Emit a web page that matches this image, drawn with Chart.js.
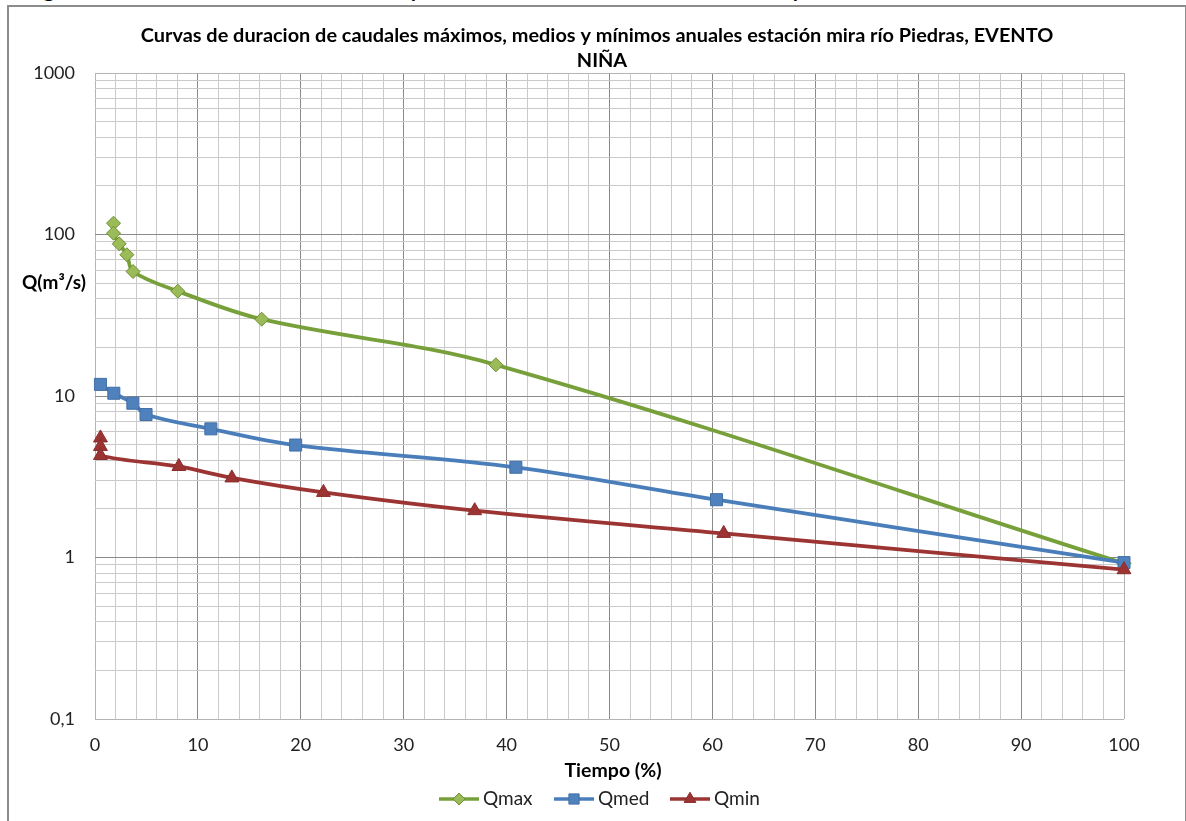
<!DOCTYPE html>
<html>
<head>
<meta charset="utf-8">
<script src="https://cdn.jsdelivr.net/npm/chart.js@4.4.0/dist/chart.umd.min.js"></script>
<style>
  html, body { margin: 0; padding: 0; background: #fff; }
  #wrap { position: relative; width: 1186px; height: 821px; overflow: hidden; }
  #cut { position: absolute; left: 26px; top: -24px; font: bold 21px Lato, sans-serif; color: #000; white-space: nowrap; }
  #frame { position: absolute; left: 7px; top: 5px; width: 1176px; height: 840px; border: 2px solid #8c8c8c; }
  canvas { position: absolute; left: 0; top: 0; }
</style>
</head>
<body>
<div id="wrap">
  <div id="cut">Figura 6. Curvas de duración de caudales y duración de caudales máximos, medios y mínimos anuales</div>
  <div id="frame"></div>
  <canvas id="chart" width="1186" height="821"></canvas>
</div>
<script>
// valores
const tiempoMax = [1.8, 1.8, 2.35, 3.1, 3.7, 8.05, 16.2, 38.96, 100];
const qMax      = [117.5, 101.9, 87.6, 74.9, 59.0, 44.6, 29.9, 15.6, 0.92];
const tiempoMed = [0.53, 1.83, 3.68, 4.96, 11.26, 19.5, 40.9, 60.4, 100];
const qMed      = [11.8, 10.4, 9.02, 7.68, 6.26, 4.97, 3.62, 2.28, 0.93];
const tiempoMin = [0.53, 0.53, 0.53, 8.15, 13.3, 22.2, 36.9, 61.1, 100];
const qMin      = [5.50, 4.87, 4.28, 3.66, 3.11, 2.53, 1.95, 1.41, 0.84];

const yDecades = [0.1, 1, 10, 100, 1000];
const yTickLabels = ['0,1', '1', '10', '100', '1000'];
const xTickLabels = [0, 10, 20, 30, 40, 50, 60, 70, 80, 90, 100];

const titleLines = ['Curvas de duracion de caudales máximos, medios y mínimos anuales estación mira río Piedras, EVENTO', 'NIÑA'];
const xTitle = 'Tiempo (%)';
const yTitle = 'Q(m³/s)';

function toPoints(xs, ys) {
    return xs.map((x, i) => ({ x: x, y: ys[i] }));
}

// grid lines: every 2 % on x, 1..9 per decade on y
const xGrid = [];
for (let v = 0; v <= 100; v += 2) xGrid.push(v);
const yGrid = [];
yDecades.forEach((d, i) => {
    if (i === yDecades.length - 1) { yGrid.push(d); return; }
    for (let k = 1; k <= 9; k++) yGrid.push(+(d * k).toPrecision(3));
});

const gridColor = (isEdge, isMajor) => isEdge ? '#b4b4b4' : (isMajor ? '#8a8a8a' : '#cacaca');

// title, axis titles and legend drawn by hand
const decor = {
    id: 'decor',
    afterDraw(chart) {
        const ctx = chart.ctx;
        ctx.save();
        ctx.fillStyle = '#000';
        ctx.textAlign = 'center';
        ctx.textBaseline = 'middle';
        ctx.font = 'bold 16px Lato';
        const w = ctx.measureText(titleLines[0]).width;
        const size = 16 * 913 / w;
        ctx.font = 'bold ' + size.toFixed(2) + 'px Lato';
        ctx.fillText(titleLines[0], 597, 36);
        ctx.fillText(titleLines[1], 602, 61);

        ctx.font = 'bold 19.5px Lato';
        ctx.fillText(xTitle, 613, 771);
        ctx.textAlign = 'left';
        ctx.font = 'bold 19px Lato';
        ctx.fillText(yTitle, 22, 283);

        // legend
        const starts = [439, 554, 670];
        ctx.font = '19px Lato';
        chart.data.datasets.forEach((ds, i) => {
            const x0 = starts[i], y0 = 799;
            ctx.strokeStyle = ds.borderColor;
            ctx.lineWidth = 3.5;
            ctx.beginPath();
            ctx.moveTo(x0, y0);
            ctx.lineTo(x0 + 40, y0);
            ctx.stroke();
            ctx.fillStyle = ds.pointBackgroundColor;
            ctx.strokeStyle = ds.pointBorderColor;
            ctx.lineWidth = 1;
            Chart.helpers.drawPoint(ctx, {
                pointStyle: ds.pointStyle,
                radius: ds.pointRadius * 0.85,
                rotation: 0,
                borderWidth: 1
            }, x0 + 20, y0);
            ctx.fillStyle = '#222';
            ctx.textAlign = 'left';
            ctx.fillText(ds.label, x0 + 44, y0);
        });
        ctx.restore();
    }
};

new Chart(document.getElementById('chart'), {
    type: 'line',
    data: {
        datasets: [
            {
                label: 'Qmax',
                data: toPoints(tiempoMax, qMax),
                borderColor: '#77a03a',
                borderWidth: 3.8,
                pointStyle: 'rectRot',
                pointRadius: 7,
                pointBackgroundColor: '#9bbb59',
                pointBorderColor: '#6e8f34',
                pointBorderWidth: 1,
                tension: 0.35,
                order: 3
            },
            {
                label: 'Qmed',
                data: toPoints(tiempoMed, qMed),
                borderColor: '#4a7ebb',
                borderWidth: 3.8,
                pointStyle: 'rect',
                pointRadius: 8.5,
                pointBackgroundColor: '#4f81bd',
                pointBorderColor: '#426fa6',
                pointBorderWidth: 1,
                tension: 0.35,
                order: 2
            },
            {
                label: 'Qmin',
                data: toPoints(tiempoMin, qMin),
                borderColor: '#9b3432',
                borderWidth: 3.8,
                pointStyle: 'triangle',
                pointRadius: 8,
                pointBackgroundColor: '#9b3432',
                pointBorderColor: '#8a2d2b',
                pointBorderWidth: 1,
                tension: 0.35,
                order: 1
            }
        ]
    },
    options: {
        responsive: false,
        animation: false,
        clip: false,
        layout: { padding: { top: 73, right: 62, left: 0, bottom: 0 } },
        plugins: {
            legend: { display: false },
            title: { display: false },
            tooltip: { enabled: false }
        },
        scales: {
            x: {
                type: 'linear',
                min: 0,
                max: 100,
                afterBuildTicks: (s) => { s.ticks = xGrid.map(v => ({ value: v })); },
                afterFit: (s) => { s.height = 102; },
                ticks: {
                    autoSkip: false,
                    maxRotation: 0,
                    padding: 15,
                    color: '#222',
                    font: { family: 'Lato', size: 18 },
                    callback: (v) => xTickLabels.includes(v) ? String(v) : ''
                },
                grid: {
                    drawTicks: false,
                    color: (c) => gridColor(c.tick.value === 0 || c.tick.value === 100, c.tick.value % 10 === 0)
                },
                border: { display: false }
            },
            y: {
                type: 'logarithmic',
                min: 0.1,
                max: 1000,
                afterBuildTicks: (s) => { s.ticks = yGrid.map(v => ({ value: v })); },
                afterFit: (s) => { s.width = 95; },
                ticks: {
                    autoSkip: false,
                    padding: 20,
                    color: '#222',
                    font: { family: 'Lato', size: 18 },
                    callback: (v) => {
                        const i = yDecades.indexOf(v);
                        return i >= 0 ? yTickLabels[i] : '';
                    }
                },
                grid: {
                    drawTicks: false,
                    color: (c) => gridColor(c.tick.value === 0.1 || c.tick.value === 1000, yDecades.includes(c.tick.value))
                },
                border: { display: false }
            }
        }
    },
    plugins: [decor]
});
</script>
</body>
</html>
